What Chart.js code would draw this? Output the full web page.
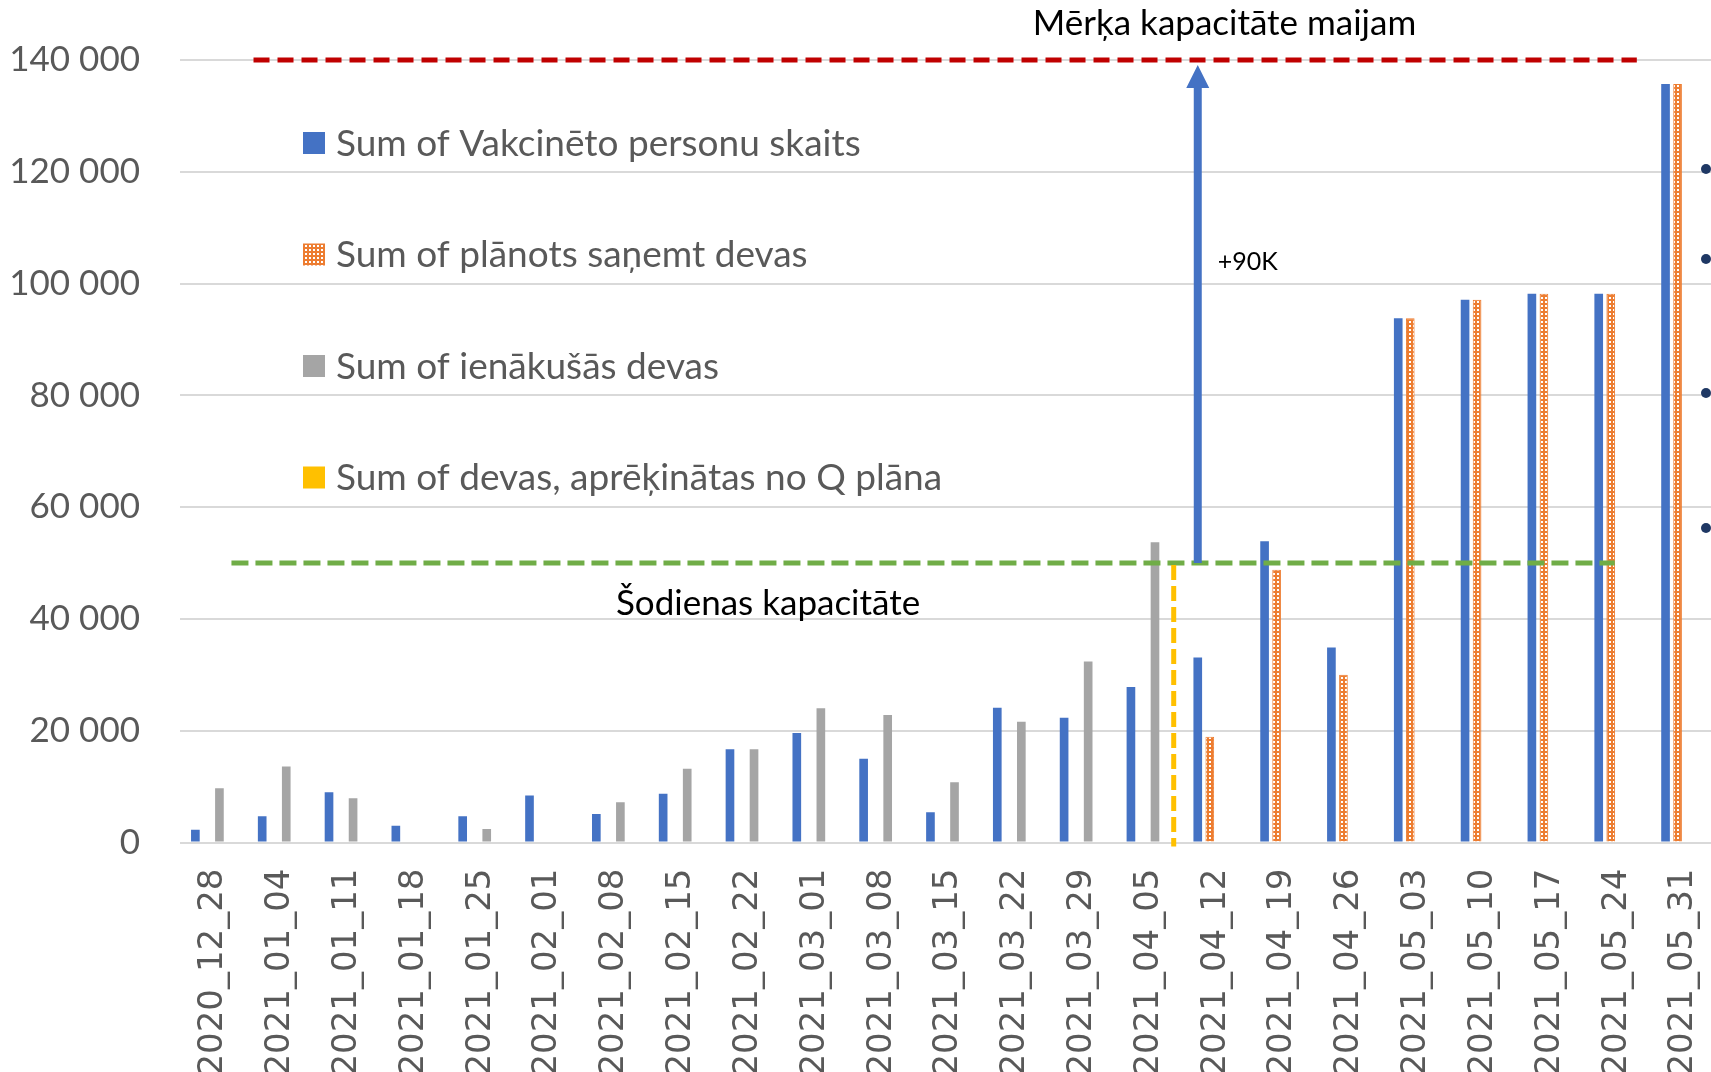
<!DOCTYPE html>
<html><head><meta charset="utf-8">
<script src="https://cdn.jsdelivr.net/npm/chart.js@4.4.0/dist/chart.umd.min.js"></script>
<style>html,body{margin:0;padding:0;overflow:hidden;background:#fff}</style>
</head><body>
<canvas id="c" width="1717" height="1072" style="display:block"></canvas>
<script>
// ---- data ----
const categories = ['2020_12_28','2021_01_04','2021_01_11','2021_01_18','2021_01_25','2021_02_01','2021_02_08','2021_02_15','2021_02_22','2021_03_01','2021_03_08','2021_03_15','2021_03_22','2021_03_29','2021_04_05','2021_04_12','2021_04_19','2021_04_26','2021_05_03','2021_05_10','2021_05_17','2021_05_24','2021_05_31'];
const vaccinated = [2300,4700,9000,3000,4700,8400,5100,8700,16700,19600,15000,5400,24100,22300,27800,33100,53900,34900,93800,97100,98200,98200,135700];
const plannedDoses = [null,null,null,null,null,null,null,null,null,null,null,null,null,null,null,18900,48800,30000,93800,97100,98200,98200,135700];
const receivedDoses = [9700,13600,7900,null,2400,null,7200,13200,16700,24000,22800,10800,21600,32400,53700,null,null,null,null,null,null,null,null];
const planQDoses = [null,null,null,null,null,null,null,null,null,null,null,null,null,null,null,null,null,null,null,null,null,null,null];
const seriesLabels = ['Sum of Vakcinēto personu skaits','Sum of plānots saņemt devas','Sum of ienākušās devas','Sum of devas, aprēķinātas no Q plāna'];
const yMin = 0, yMax = 140000, yStep = 20000;
const targetCapacity = 140000, currentCapacity = 50000;
const targetLabel = 'Mērķa kapacitāte maijam';
const currentLabel = 'Šodienas kapacitāte';
const increaseLabel = '+90K';
// annotation extents, in category-index units
const targetLineRange = [0.6, 21.3];
const currentLineRange = [0.27, 20.97];
const todayIndex = 14.37;
const targetLabelIndex = 15.13;
const currentLabelIndex = 8.3, currentLabelValue = 42800;
const increaseLabelValue = 103900;

function makePattern(){
  const c=document.createElement('canvas'); c.width=4; c.height=4;
  const g=c.getContext('2d');
  g.fillStyle='#ED7D31'; g.fillRect(0,0,4,4);
  g.fillStyle='#ffffff'; g.fillRect(1,1,2,2);
  return g.createPattern(c,'repeat');
}
const orangePattern = makePattern();
const colors = ['#4472C4', orangePattern, '#A5A5A5', '#FFC000'];
const txtGrey = '#595959';

const annot = {
  id:'annot',
  afterDatasetsDraw(chart){
    const ctx=chart.ctx, xs=chart.scales.x, ys=chart.scales.y;
    ctx.save();
    // green current-capacity line
    ctx.strokeStyle='#70AD47'; ctx.lineWidth=5; ctx.setLineDash([17,7]);
    ctx.beginPath();
    ctx.moveTo(xs.getPixelForValue(currentLineRange[0]), ys.getPixelForValue(currentCapacity));
    ctx.lineTo(xs.getPixelForValue(currentLineRange[1]), ys.getPixelForValue(currentCapacity));
    ctx.stroke();
    // red target line
    ctx.strokeStyle='#C00000'; ctx.setLineDash([16,8]);
    ctx.beginPath();
    ctx.moveTo(xs.getPixelForValue(targetLineRange[0]), ys.getPixelForValue(targetCapacity));
    ctx.lineTo(xs.getPixelForValue(targetLineRange[1]), ys.getPixelForValue(targetCapacity));
    ctx.stroke();
    // yellow today line
    ctx.strokeStyle='#FFC000'; ctx.setLineDash([15,6]);
    const tx=xs.getPixelForValue(todayIndex);
    ctx.beginPath();
    ctx.moveTo(tx, ys.getPixelForValue(currentCapacity)+2);
    ctx.lineTo(tx, ys.getPixelForValue(0)+4);
    ctx.stroke();
    ctx.setLineDash([]);
    // blue arrow from current to target, aligned to first forecast bar
    const ax = chart.getDatasetMeta(0).data[15].x;
    const yTop = ys.getPixelForValue(targetCapacity)+5;
    const yBot = ys.getPixelForValue(currentCapacity);
    ctx.strokeStyle='#4472C4'; ctx.fillStyle='#4472C4'; ctx.lineWidth=8;
    ctx.beginPath(); ctx.moveTo(ax,yBot); ctx.lineTo(ax,yTop+22); ctx.stroke();
    ctx.beginPath(); ctx.moveTo(ax,yTop); ctx.lineTo(ax-11.5,yTop+23); ctx.lineTo(ax+11.5,yTop+23); ctx.closePath(); ctx.fill();
    // texts
    ctx.fillStyle='#000'; ctx.textBaseline='middle';
    ctx.font='35px Lato'; ctx.textAlign='center';
    ctx.fillText(targetLabel, xs.getPixelForValue(targetLabelIndex), ys.getPixelForValue(targetCapacity)-36);
    ctx.fillText(currentLabel, xs.getPixelForValue(currentLabelIndex), ys.getPixelForValue(currentLabelValue));
    ctx.font='25px Lato'; ctx.textAlign='left';
    ctx.fillText(increaseLabel, ax+20, ys.getPixelForValue(increaseLabelValue));
    // legend
    const lx=303, ly0=143, lstep=111.5;
    ctx.font='37px Lato'; ctx.textAlign='left';
    chart.data.datasets.forEach((ds,i)=>{
      const y=ly0+i*lstep;
      ctx.fillStyle=ds.backgroundColor; ctx.fillRect(lx,y-11,22,22);
      ctx.fillStyle=txtGrey; ctx.fillText(ds.label, lx+33, y+1);
    });
    // bullets of neighbouring text (cropped)
    ctx.fillStyle='#1F3864';
    [169,259,393,528].forEach(y=>{ctx.beginPath();ctx.arc(1706,y,5,0,Math.PI*2);ctx.fill();});
    ctx.restore();
  }
};

const datasets=[vaccinated,plannedDoses,receivedDoses,planQDoses].map((d,i)=>({
  label:seriesLabels[i], data:d, backgroundColor:colors[i],
  borderColor: i===1?'#ED7D31':colors[i], borderWidth: i===1?1:0,
  categoryPercentage:0.72, barPercentage:0.72
}));

new Chart(document.getElementById('c'),{
  type:'bar',
  data:{labels:categories, datasets},
  options:{
    responsive:false, animation:false, devicePixelRatio:1,
    layout:{padding:{top:60,left:0,right:0,bottom:0}},
    plugins:{legend:{display:false},tooltip:{enabled:false}},
    scales:{
      x:{
        grid:{display:false}, border:{display:false},
        ticks:{autoSkip:false,maxRotation:90,minRotation:90,padding:18,color:txtGrey,font:{family:'DejaVu Sans',size:34}},
        afterFit(s){s.height=229.5; s.paddingLeft=0; s.paddingRight=0;}
      },
      y:{
        min:yMin,max:yMax,
        grid:{color:'#d9d9d9',lineWidth:2,drawTicks:false}, border:{display:false},
        ticks:{stepSize:yStep,padding:40,color:txtGrey,font:{family:'Lato',size:35},
          callback:v=>String(v).replace(/\B(?=(\d{3})+(?!\d))/g,' ')},
        afterFit(s){s.width=180; s.paddingTop=0; s.paddingBottom=0;}
      }
    }
  },
  plugins:[annot]
});
</script>
</body></html>
